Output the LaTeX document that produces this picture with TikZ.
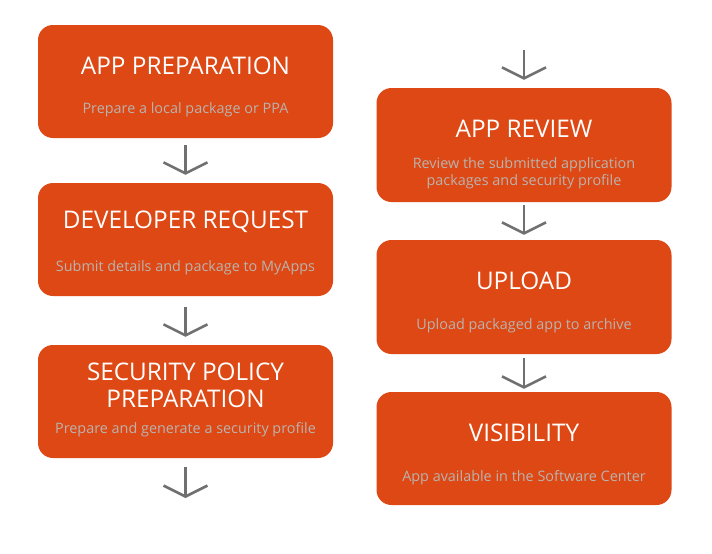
\documentclass[tikz,border=0pt]{standalone}
\usepackage{fontspec}
\setmainfont{Open Sans}
\usetikzlibrary{arrows.meta}

\definecolor{ubuorange}{HTML}{DD4814}
\definecolor{subgrey}{HTML}{BAB3AD}
\definecolor{arrowgrey}{HTML}{707070}

\tikzset{
	stage/.style={fill=ubuorange, rounded corners=15pt, minimum width=295pt, minimum height=113pt, inner sep=0pt},
	heading/.style={text=white, font=\fontsize{24.3}{27}\selectfont, align=center},
	detail/.style={text=subgrey, font=\fontsize{14.4}{17}\selectfont, align=center},
	flow/.style={draw=arrowgrey, line width=2.6pt, -{Straight Barb[length=11pt,width=44pt]}},
}

\begin{document}
\begin{tikzpicture}[x=1pt,y=-1pt]
	\useasboundingbox (0,0) rectangle (712,554);
	% left column
	\node[stage] (prep) at (185.5,81.5) {};
	\node[heading] (prepT) at (185.5,66) {APP PREPARATION};
	\node[detail] (prepD) at (185.5,110) {Prepare a local package or PPA};
	\node[stage] (dev) at (185.5,239.5) {};
	\node[heading] (devT) at (185.5,222) {DEVELOPER REQUEST};
	\node[detail] (devD) at (185.5,268) {Submit details and package to MyApps};
	\node[stage] (sec) at (185.5,401.5) {};
	\node[heading] (secT) at (185.5,385.5) {SECURITY POLICY\\PREPARATION};
	\node[detail] (secD) at (185.5,430) {Prepare and generate a security profile};
	% right column
	\node[stage, minimum height=114pt] (review) at (524,145) {};
	\node[heading] (reviewT) at (524,129) {APP REVIEW};
	\node[detail] (reviewD) at (524,173) {Review the submitted application\\packages and security profile};
	\node[stage, minimum height=114pt] (upload) at (524,297) {};
	\node[heading] (uploadT) at (524,281) {UPLOAD};
	\node[detail] (uploadD) at (524,326) {Upload packaged app to archive};
	\node[stage] (vis) at (524,448.5) {};
	\node[heading] (visT) at (524,433) {VISIBILITY};
	\node[detail] (visD) at (524,478) {App available in the Software Center};
	% arrows
	\coordinate (start) at (524,50);
	\coordinate (finish) at (185.5,498);
	\draw[flow, shorten <=7pt, shorten >=8pt] (prep.south) -- (dev.north);
	\draw[flow, shorten <=11pt, shorten >=8pt] (dev.south) -- (sec.north);
	\draw[flow, shorten <=9pt] (sec.south) -- (finish);
	\draw[flow, shorten >=8pt] (start) -- (review.north);
	\draw[flow, shorten <=3pt, shorten >=5pt] (review.south) -- (upload.north);
	\draw[flow, shorten <=4pt, shorten >=3pt] (upload.south) -- (vis.north);
\end{tikzpicture}
\end{document}
